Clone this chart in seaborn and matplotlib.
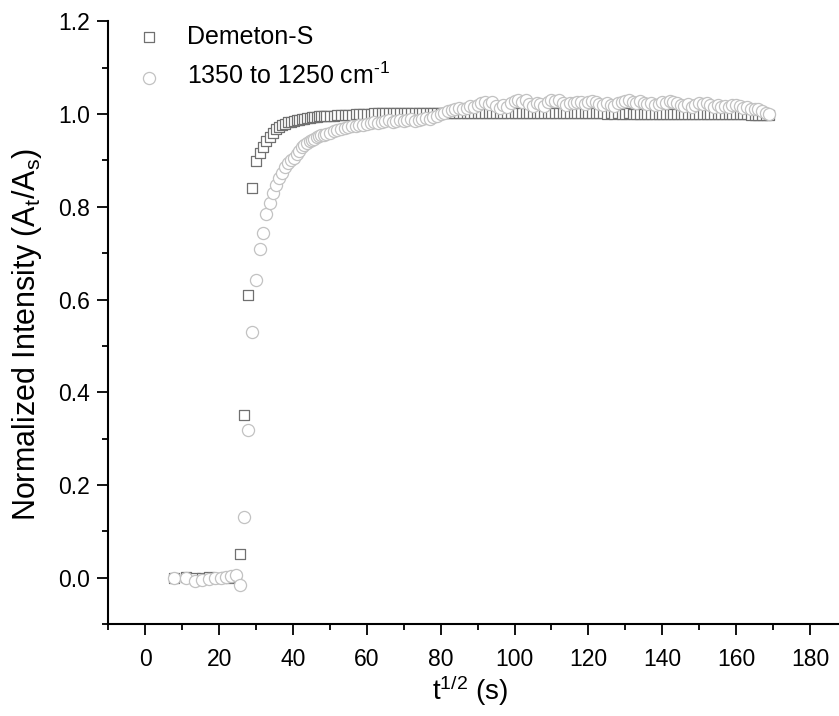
import matplotlib
matplotlib.use("Agg")
import matplotlib.pyplot as plt
from matplotlib.ticker import MultipleLocator
import seaborn as sns

# t^(1/2) sample positions (s), shared by both series
t_rise = [7.7, 11.0, 13.4, 15.5, 17.3, 19.0, 20.5, 21.9, 23.2, 24.5,
          25.7, 26.8, 27.9, 29.0, 30.0, 31.0, 31.9, 32.8, 33.7, 34.6,
          35.5, 36.3, 37.1, 37.9, 38.7, 39.5, 40.2, 41.0, 41.7, 42.4,
          43.1, 43.8, 44.5, 45.2, 45.8, 46.5, 47.1, 47.7, 48.4, 49.0]
t_plateau = [50, 51, 52, 53, 54, 55, 56, 57, 58, 59, 60, 61, 62, 63, 64,
             65, 66, 67, 68, 69, 70, 71, 72, 73, 74, 75, 76, 77, 78, 79,
             80, 81, 82, 83, 84, 85, 86, 87, 88, 89, 90, 91, 92, 93, 94,
             95, 96, 97, 98, 99, 100, 101, 102, 103, 104, 105, 106, 107,
             108, 109, 110, 111, 112, 113, 114, 115, 116, 117, 118, 119,
             120, 121, 122, 123, 124, 125, 126, 127, 128, 129, 130, 131,
             132, 133, 134, 135, 136, 137, 138, 139, 140, 141, 142, 143,
             144, 145, 146, 147, 148, 149, 150, 151, 152, 153, 154, 155,
             156, 157, 158, 159, 160, 161, 162, 163, 164, 165, 166, 167,
             168, 169]

# Demeton-S (squares)
demeton_rise = [0.000, 0.001, 0.000, -0.001, 0.001, 0.000, 0.000, 0.001, 0.000, 0.002,
                0.052, 0.351, 0.609, 0.840, 0.898, 0.917, 0.930, 0.941, 0.951, 0.960,
                0.967, 0.972, 0.976, 0.979, 0.982, 0.984, 0.986, 0.987, 0.988, 0.989,
                0.990, 0.991, 0.992, 0.993, 0.994, 0.994, 0.995, 0.995, 0.996, 0.996]
demeton_plateau = [0.997, 0.997, 0.998, 0.998, 0.999, 0.999, 0.999, 1.000, 1.000, 1.001,
                   1.001, 1.001, 1.002, 1.002, 1.002, 1.002, 1.003, 1.003, 1.003, 1.003,
                   1.003, 1.003, 1.003, 1.003, 1.003, 1.003, 1.003, 1.003, 1.003, 1.003,
                   1.003, 1.003, 1.003, 1.003, 1.003, 1.003, 1.003, 1.003, 1.003, 1.003,
                   1.003, 1.003, 1.003, 1.003, 1.002, 1.003, 1.002, 1.003, 1.002, 1.003,
                   1.002, 1.003, 1.002, 1.002, 1.003, 1.002, 1.002, 1.003, 1.002, 1.002,
                   1.002, 1.002, 1.003, 1.002, 1.002, 1.002, 1.002, 1.002, 1.002, 1.002,
                   1.002, 1.002, 1.002, 1.002, 1.002, 1.001, 1.002, 1.001, 1.002, 1.001,
                   1.001, 1.002, 1.001, 1.001, 1.001, 1.001, 1.001, 1.001, 1.001, 1.001,
                   1.001, 1.001, 1.001, 1.001, 1.001, 1.000, 1.001, 1.000, 1.001, 1.000,
                   1.000, 1.000, 1.000, 1.000, 1.000, 1.000, 1.000, 1.000, 1.000, 1.000,
                   1.000, 1.000, 1.000, 1.000, 0.999, 0.999, 0.999, 0.999, 0.999, 0.999]

# 1350 to 1250 cm-1 band (circles)
band_rise = [0.000, 0.000, -0.007, -0.005, -0.003, -0.001, 0.000, 0.001, 0.004, 0.006,
             -0.015, 0.130, 0.318, 0.530, 0.642, 0.708, 0.743, 0.784, 0.808, 0.829,
             0.847, 0.862, 0.873, 0.886, 0.894, 0.900, 0.906, 0.915, 0.921, 0.928,
             0.933, 0.938, 0.942, 0.945, 0.947, 0.950, 0.952, 0.954, 0.956, 0.958]
band_plateau = [0.960, 0.963, 0.965, 0.968, 0.971, 0.972, 0.974, 0.975, 0.977, 0.976,
                0.979, 0.981, 0.983, 0.980, 0.982, 0.985, 0.987, 0.984, 0.986, 0.988,
                0.985, 0.987, 0.989, 0.986, 0.988, 0.990, 0.992, 0.990, 0.994, 0.997,
                1.000, 1.003, 1.006, 1.008, 1.011, 1.013, 1.010, 1.014, 1.017, 1.015,
                1.020, 1.024, 1.027, 1.022, 1.027, 1.018, 1.013, 1.020, 1.016, 1.024,
                1.029, 1.031, 1.027, 1.030, 1.022, 1.018, 1.024, 1.021, 1.018, 1.026,
                1.030, 1.028, 1.031, 1.024, 1.020, 1.025, 1.023, 1.027, 1.026, 1.022,
                1.027, 1.029, 1.026, 1.022, 1.019, 1.024, 1.020, 1.018, 1.023, 1.026,
                1.028, 1.030, 1.027, 1.024, 1.029, 1.025, 1.021, 1.024, 1.019, 1.022,
                1.026, 1.024, 1.028, 1.026, 1.023, 1.020, 1.017, 1.021, 1.016, 1.019,
                1.023, 1.021, 1.024, 1.019, 1.016, 1.019, 1.015, 1.018, 1.015, 1.019,
                1.020, 1.017, 1.014, 1.016, 1.012, 1.010, 1.011, 1.006, 1.003, 1.000]

t_half = t_rise + t_plateau
demeton = demeton_rise + demeton_plateau
band = band_rise + band_plateau

sns.set_theme(style="ticks")
plt.rcParams["font.family"] = ["Liberation Sans", "DejaVu Sans"]
plt.rcParams["mathtext.fontset"] = "custom"
plt.rcParams["mathtext.rm"] = "Liberation Sans"
plt.rcParams["mathtext.it"] = "Liberation Sans:italic"
plt.rcParams["mathtext.default"] = "regular"
for key in ["text.color", "axes.labelcolor", "xtick.color", "ytick.color",
            "axes.edgecolor"]:
    plt.rcParams[key] = "black"

fig = plt.figure(figsize=(8.39, 7.16), dpi=100)
ax = fig.add_axes([0.1291, 0.1285, 0.8803, 0.8416])

sns.scatterplot(x=t_half, y=demeton, marker="s", s=56, color="white",
                edgecolor="#707070", linewidth=0.9, label="Demeton-S", ax=ax)
sns.scatterplot(x=t_half, y=band, marker="o", s=76, color="white",
                edgecolor="#c2c2c2", linewidth=0.9,
                label="1350 to 1250 cm$^{\\text{-1}}$", ax=ax)

ax.set_xlim(-10, 190)
ax.set_ylim(-0.1, 1.2)
ax.xaxis.set_major_locator(MultipleLocator(20))
ax.xaxis.set_minor_locator(MultipleLocator(10))
ax.yaxis.set_major_locator(MultipleLocator(0.2))
ax.yaxis.set_minor_locator(MultipleLocator(0.1))
ax.yaxis.set_major_formatter(plt.FormatStrFormatter("%.1f"))

sns.despine(ax=ax)
for side in ["left", "bottom"]:
    ax.spines[side].set_linewidth(1.5)
ax.tick_params(which="major", direction="out", length=8, width=1.3,
               labelsize=16.5, pad=5)
ax.tick_params(which="minor", direction="out", length=4, width=1.3)
ax.tick_params(axis="x", which="major", pad=9)

ax.set_xlabel("t$^{1/2}$ (s)", fontsize=20)
ax.set_ylabel("Normalized Intensity (A$_{t}$/A$_{s}$)", fontsize=22)
ax.xaxis.set_label_coords(0.49, -0.082)
ax.yaxis.set_label_coords(-0.087, 0.481)

ax.legend(loc="upper left", bbox_to_anchor=(0.1623, 0.965),
          bbox_transform=fig.transFigure, frameon=False, fontsize=18,
          handlelength=1.0, handletextpad=1.05, labelspacing=0.55,
          borderpad=0, borderaxespad=0)

fig.savefig("out.png", dpi=100)
